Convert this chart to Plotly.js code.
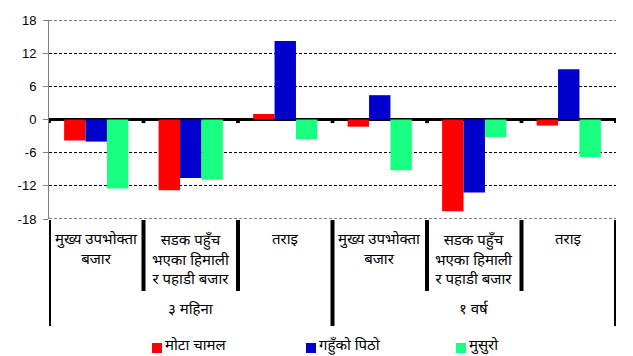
<!DOCTYPE html>
<html>
<head>
<meta charset="utf-8">
<script src="https://cdn.plot.ly/plotly-3.0.1.min.js"></script>
<style>
  html, body { margin: 0; padding: 0; background: #fff; }
  #chart { width: 633px; height: 356px; }
</style>
</head>
<body>
<div id="chart"></div>
<script>
// Period groups and market types shown under each bar cluster
const periods = ["३ महिना", "१ वर्ष"];
const markets = ["मुख्य उपभोक्ता<br>बजार", "सडक पहुँच<br>भएका हिमाली<br>र पहाडी बजार", "तराइ"];

// Series names and colours
const seriesNames = ["मोटा चामल", "गहुँको पिठो", "मुसुरो"];
const seriesColors = ["#ff0000", "#0000cc", "#19ff80"];

// Percentage change, ordered: 3 months (3 markets), then 1 year (3 markets)
const coarseRice = [-3.8, -12.8, 1.0, -1.3, -16.6, -1.1];
const wheatFlour = [-4.0, -10.6, 14.2, 4.4, -13.2, 9.1];
const lentils    = [-12.5, -10.9, -3.6, -9.2, -3.2, -6.8];

const yTicks = [-18, -12, -6, 0, 6, 12, 18];

const deva = "Noto Sans Devanagari, Lohit Devanagari, FreeSans, Noto Sans, sans-serif";

// One category key per bar cluster
const cats = [];
periods.forEach(p => markets.forEach(m => cats.push(p + " | " + m)));

const seriesValues = [coarseRice, wheatFlour, lentils];
const traces = seriesValues.map((vals, k) => ({
  type: "bar",
  x: cats,
  y: vals,
  name: seriesNames[k],
  marker: { color: seriesColors[k], line: { width: 0 } },
  showlegend: false,
  hoverinfo: "y"
}));

// Plot-area geometry helpers (paper coordinates)
const L = 49, R = 17, T = 20, B = 137, W = 633, H = 356;
const pw = W - L - R, ph = H - T - B;
const px = p => (p - L) / pw;
const py = p => (H - B - p) / ph;

const shapes = [];
const annotations = [];

// Dashed grid lines at the two ends of the value range
[yTicks[0], yTicks[yTicks.length - 1]].forEach(v => {
  shapes.push({
    type: "line", xref: "paper", yref: "y", layer: "below",
    x0: 0, x1: 1, y0: v, y1: v,
    line: { color: "#000", width: 1, dash: "3px,2px" }
  });
});

// Category boundaries: small markers on the zero line and separators below the axis
for (let i = 0; i <= cats.length; i++) {
  const b = i - 0.5;
  const outer = (i % markets.length === 0);
  shapes.push({
    type: "rect", xref: "x", yref: "y",
    x0: b - 0.02, x1: b + 0.02, y0: 0, y1: -0.65,
    fillcolor: "#000", line: { width: 0 }
  });
  shapes.push({
    type: "line", xref: "x", yref: "paper",
    x0: b, x1: b, y0: py(220), y1: outer ? py(326) : py(291),
    line: { color: "#000", width: 4 }
  });
}

// Market labels under each cluster
cats.forEach((c, i) => {
  annotations.push({
    xref: "x", yref: "paper", x: c, y: py(229),
    xanchor: "center", yanchor: "top", showarrow: false,
    text: markets[i % markets.length], align: "center",
    font: { family: deva, size: 15, color: "#000" }
  });
});

// Period labels centred under their three markets
periods.forEach((p, j) => {
  annotations.push({
    xref: "x", yref: "paper", x: cats[j * markets.length + 1], y: py(310),
    xanchor: "center", yanchor: "middle", showarrow: false,
    text: p, font: { family: deva, size: 15, color: "#000" }
  });
});

// Legend row
const legendX = [152, 306, 456];
seriesNames.forEach((n, k) => {
  shapes.push({
    type: "rect", xref: "paper", yref: "paper",
    x0: px(legendX[k]), x1: px(legendX[k] + 10), y0: py(343), y1: py(353),
    fillcolor: seriesColors[k], line: { width: 0 }
  });
  annotations.push({
    xref: "paper", yref: "paper", x: px(legendX[k] + 11), y: py(346),
    xanchor: "left", yanchor: "middle", showarrow: false,
    text: n, font: { family: deva, size: 15, color: "#000" }
  });
});

const layout = {
  width: W, height: H,
  margin: { l: L, r: R, t: T, b: B, pad: 0 },
  paper_bgcolor: "#fff", plot_bgcolor: "#fff",
  barmode: "group", bargap: 0.32, bargroupgap: 0,
  showlegend: false,
  xaxis: {
    type: "category", showticklabels: false, ticks: "",
    showgrid: false, zeroline: false, showline: false,
    range: [-0.5, cats.length - 0.5]
  },
  yaxis: {
    range: [-18, 18], tickvals: yTicks, ticktext: yTicks.map(String),
    showgrid: true, gridcolor: "#000", gridwidth: 1, griddash: "3px,2px",
    zeroline: true, zerolinecolor: "#000", zerolinewidth: 3,
    showline: true, linecolor: "#808080", linewidth: 1,
    ticks: "outside", ticklen: 5, tickcolor: "#808080", ticklabelstandoff: 4,
    tickfont: { family: "Liberation Sans, Arial, sans-serif", size: 13, color: "#000" }
  },
  shapes: shapes,
  annotations: annotations
};

Plotly.newPlot("chart", traces, layout, { staticPlot: true, displayModeBar: false });
</script>
</body>
</html>
